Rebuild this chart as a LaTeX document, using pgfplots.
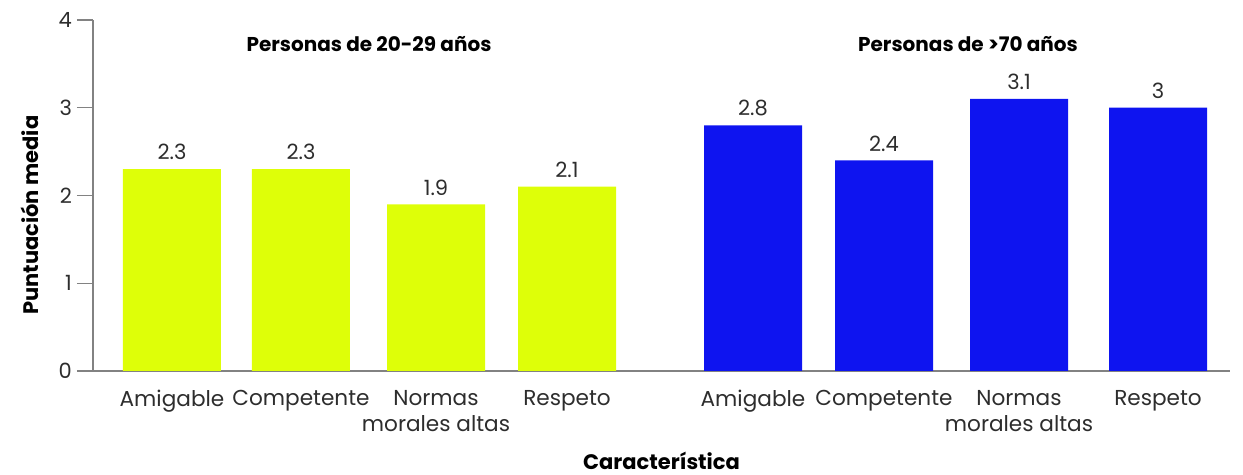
\documentclass[border=0pt]{standalone}
\usepackage{pgfplots}
\pgfplotsset{compat=1.18}
\usepackage{fontspec}
\setmainfont{Poppins}
\definecolor{barY}{RGB}{222,255,8}
\definecolor{barB}{RGB}{14,20,240}
\definecolor{txt}{RGB}{45,45,45}
\definecolor{axgray}{RGB}{130,130,130}

\begin{document}
\begin{tikzpicture}
\useasboundingbox (-46.5pt,-52pt) rectangle (575pt,185.5pt);
\begin{axis}[
    scale only axis,
    width=568.5pt, height=175.5pt,
    xmin=93, xmax=1230,
    ymin=0, ymax=4,
    axis lines*=left,
    axis line style={axgray, line width=0.7pt},
    ytick={0,1,2,3,4},
    ytick style={axgray, line width=0.7pt},
    tick align=outside,
    major tick length=8pt,
    xtick={172,301,436,567,753,884,1019,1158},
    xticklabels={Amigable,Competente,{Normas\\morales altas},Respeto,
                 Amigable,Competente,{Normas\\morales altas},Respeto},
    xtick style={draw=none},
    xticklabel style={align=center, font=\fontsize{10.8}{13}\selectfont, text=txt, anchor=north, yshift=2pt},
    yticklabel style={font=\fontsize{10.5}{12}\selectfont, text=txt, xshift=1pt},
    /pgf/number format/assume math mode=true,
    ylabel={\textbf{Puntuación media}},
    ylabel style={font=\fontsize{10.5}{12}\selectfont, at={(ticklabel cs:0.444)}, yshift=3pt},
    xlabel={\textbf{Característica}},
    xlabel style={font=\fontsize{10.5}{12}\selectfont, yshift=-3.5pt},
    ybar, bar shift=0pt, bar width=98,
    nodes near coords,
    every node near coord/.append style={font=\fontsize{10.5}{12}\selectfont, text=txt, yshift=1pt},
    clip=false,
]
\addplot[draw=none, fill=barY] coordinates {(172,2.3) (301,2.3) (436,1.9) (567,2.1)};
\addplot[draw=none, fill=barB] coordinates {(753,2.8) (884,2.4) (1019,3.1) (1158,3)};
\node[font=\bfseries\fontsize{10}{12}\selectfont] at (axis cs:369,3.73) {Personas de 20-29 años};
\node[font=\bfseries\fontsize{10}{12}\selectfont] at (axis cs:968,3.73) {Personas de >70 años};
\end{axis}
\end{tikzpicture}
\end{document}
